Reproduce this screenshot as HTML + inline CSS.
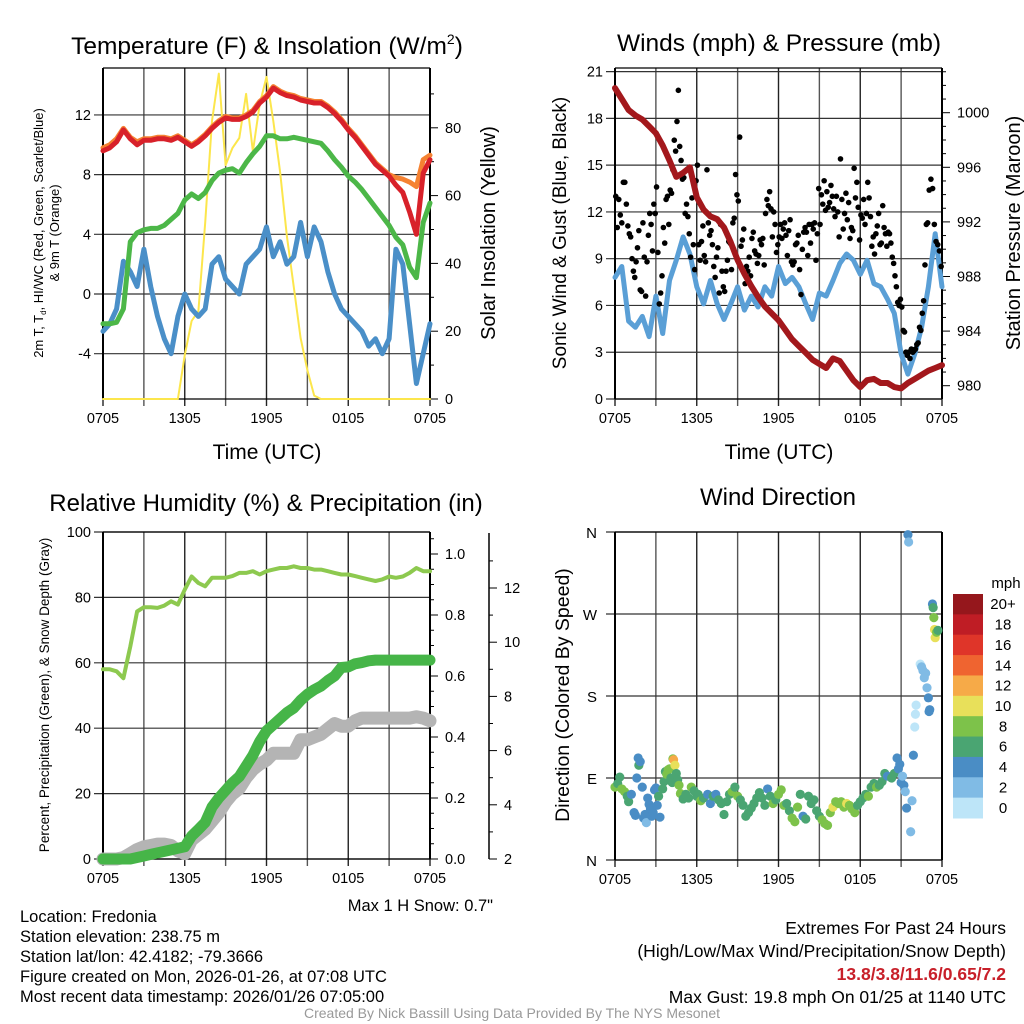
<!DOCTYPE html>
<html><head><meta charset="utf-8"><style>
html,body{margin:0;padding:0;background:#fff;}
svg{display:block;font-family:"Liberation Sans",sans-serif;}
</style></head><body>
<svg id="fig" width="1024" height="1024" viewBox="0 0 1024 1024" xmlns="http://www.w3.org/2000/svg">
<rect width="1024" height="1024" fill="#fff"/>
<text x="267" y="54" font-size="24.5" text-anchor="middle">Temperature (F) &amp; Insolation (W/m<tspan dy="-10" font-size="14">2</tspan><tspan dy="10">)</tspan></text>
<text x="779" y="51" font-size="24.5" text-anchor="middle">Winds (mph) &amp; Pressure (mb)</text>
<text x="266" y="511" font-size="24" text-anchor="middle">Relative Humidity (%) &amp; Precipitation (in)</text>
<text x="778" y="505" font-size="24" text-anchor="middle">Wind Direction</text>
<text x="267" y="459" font-size="21" text-anchor="middle">Time (UTC)</text>
<text x="779" y="459" font-size="21" text-anchor="middle">Time (UTC)</text>
<text transform="translate(43,233) rotate(-90)" font-size="13" text-anchor="middle">2m T, T<tspan font-size="8" dy="3">d</tspan><tspan dy="-3">, HI/WC (Red, Green, Scarlet/Blue)</tspan></text>
<text transform="translate(59,233) rotate(-90)" font-size="13" text-anchor="middle">&amp; 9m T (Orange)</text>
<text transform="translate(495,233) rotate(-90)" font-size="20" text-anchor="middle">Solar Insolation (Yellow)</text>
<text transform="translate(566,233) rotate(-90)" font-size="19" text-anchor="middle">Sonic Wind &amp; Gust (Blue, Black)</text>
<text transform="translate(1020,233) rotate(-90)" font-size="20" text-anchor="middle">Station Pressure (Maroon)</text>
<text transform="translate(49,695) rotate(-90)" font-size="13.5" text-anchor="middle">Percent, Precipitation (Green), &amp; Snow Depth (Gray)</text>
<text transform="translate(569,695) rotate(-90)" font-size="19.5" text-anchor="middle">Direction (Colored By Speed)</text>
<text x="493" y="911" font-size="16.5" text-anchor="end">Max 1 H Snow: 0.7"</text>
<g font-size="16.5">
<text x="20" y="922">Location: Fredonia</text>
<text x="20" y="942">Station elevation: 238.75 m</text>
<text x="20" y="962">Station lat/lon: 42.4182; -79.3666</text>
<text x="20" y="982">Figure created on Mon, 2026-01-26, at 07:08 UTC</text>
<text x="20" y="1002">Most recent data timestamp: 2026/01/26 07:05:00</text>
</g>
<g font-size="17.5" text-anchor="end">
<text x="1006" y="934">Extremes For Past 24 Hours</text>
<text x="1006" y="957">(High/Low/Max Wind/Precipitation/Snow Depth)</text>
<text x="1006" y="980" fill="#c8202a" font-weight="bold">13.8/3.8/11.6/0.65/7.2</text>
<text x="1006" y="1003">Max Gust: 19.8 mph On 01/25 at 1140 UTC</text>
</g>
<text x="512" y="1018" font-size="14" fill="#999" text-anchor="middle">Created By Nick Bassill Using Data Provided By The NYS Mesonet</text>
</svg>
<script>
// ---------- data ----------
const hours = [0,0.5,1,1.5,2,2.5,3,3.5,4,4.5,5,5.5,6,6.5,7,7.5,8,8.5,9,9.5,10,10.5,11,11.5,12,12.5,13,13.5,14,14.5,15,15.5,16,16.5,17,17.5,18,18.5,19,19.5,20,20.5,21,21.5,22,22.5,23,23.5,24];
const xTickLabels = ["0705","1305","1905","0105","0705"];
const tempF = [9.6,9.8,10.2,11.0,10.4,10.0,10.3,10.3,10.4,10.4,10.3,10.5,10.2,9.9,10.2,10.6,11.1,11.5,11.8,11.7,11.7,11.9,12.2,12.8,13.2,13.8,13.5,13.3,13.2,13.0,12.9,12.8,12.8,12.5,12.1,11.6,11.0,10.5,9.9,9.3,8.7,8.3,7.9,7.3,6.8,5.5,4.0,8.1,9.0];
const temp9mF = [9.8,10.0,10.4,11.1,10.5,10.2,10.4,10.4,10.5,10.5,10.4,10.6,10.3,10.0,10.3,10.7,11.2,11.6,11.9,11.8,11.8,12.0,12.3,12.9,13.3,13.9,13.6,13.4,13.3,13.1,13.0,12.9,12.9,12.6,12.2,11.7,11.1,10.6,10.0,9.4,8.8,8.4,8.0,7.8,7.7,7.5,7.2,9.0,9.3];
const dewF = [-2.0,-2.0,-1.9,-1.0,3.5,4.1,4.3,4.4,4.4,4.6,5.0,5.4,6.3,6.7,6.4,6.8,7.6,8.1,8.3,8.4,8.1,8.8,9.4,9.9,10.6,10.6,10.4,10.4,10.5,10.4,10.3,10.2,10.1,9.6,9.0,8.5,7.9,7.5,7.0,6.4,5.8,5.2,4.6,3.8,3.3,1.8,1.1,4.8,6.1];
const windChillF = [-2.5,-2,-1,2.2,1.5,0.5,3,0.5,-1.5,-3,-4,-1.5,0,-1,-1.5,-1,2,2.5,1,0.5,0,2,2.5,3,4.5,2.5,3.5,2,2.5,4.8,2.5,4.5,3.5,1.5,0,-1,-1.5,-2,-2.5,-3.5,-3,-4,-3,3,2,-2,-6,-4,-2];
const insolation = [0,0,0,0,0,0,0,0,0,0,0,0,13,23,26,52,82,96,69,74,77,90,73,87,95,82,67,48,33,18,8.5,1,0,0,0,0,0,0,0,0,0,0,0,0,0,0,0,0,0];
const tempTicks = [-4,0,4,8,12];
const insolTicks = [0,20,40,60,80];

const windMph = [7.8,8.5,5.0,4.6,5.3,4.0,6.6,4.2,7.6,8.9,10.4,9.3,7.2,6.1,7.6,6.1,5.1,6.1,7.2,5.7,6.6,5.9,7.2,6.6,8.5,7.4,7.8,7.2,6.1,5.1,6.8,6.6,7.6,8.7,9.3,8.9,8.0,8.9,7.4,7.2,6.4,5.5,2.9,1.6,2.9,4.6,7.2,10.6,7.2];
const pressureMb = [1001.8,1001.0,1000.2,999.8,999.5,999.0,998.5,997.6,996.5,995.3,995.6,996.0,993.8,992.9,992.4,992.2,991.6,990.5,989.2,988.2,987.3,986.5,985.8,985.3,984.8,984.1,983.4,982.9,982.4,981.9,981.6,981.3,982.0,981.8,981.1,980.4,979.9,980.4,980.5,980.2,980.2,979.9,979.8,980.2,980.5,980.8,981.1,981.3,981.5];
const gustByHour = [
[13,11,12.8,11.8,11.3,13.9,13.9,12.5,11.1],
[10.6,10.4,9,8.2,7.8,8.8,9.7,10.8,7,6.9],
[11.3,9.1,6.6,8.8,10.5,11.9,11.2,9.5,12.5,11.9],
[13.6,9.4,6.1,6.8,7.9,11.0,10.0,12.8,13.0,11.2],
[13.4,13.2,14.7,16.6,15.9,17.8,19.8,16.2,15.3,14.1],
[14.2,11.9,12.5,11.7,10.6,9.1,12.9,9.9,8.3,14.0],
[15.0,9.9,8.9,10.1,11.1,9.2,8.8,14.7,11.3,10.5],
[10.8,9.9,8.5,7.8,9.1,9.7,6.8,11.2,8.2,7.2],
[6.9,8.2,8.9,10.1,10.0,8.3,11.3,11.6,14.4,13.1],
[12.7,16.8,9.8,10.2,10.9,7.4,8.5,8.2,9.1,7.9],
[10.3,10.7,9.5,9.3,8.7,9.2,10.2,9.9,10.3,8.6],
[11.9,12.8,12.4,13.3,12.2,10.4,12.0,11.2,9.4,9.9],
[10.4,11.2,10.3,10.9,11.3,10.5,9.2,10.8,11.5,8.8],
[8.6,8.8,9.9,10.0,10.5,8.3,6.7,9.6,10.7,11.0],
[10.7,9.2,11.2,10.0,11.2,10.9,11.3,8.9,10.6,13.5],
[11.2,13.1,12.5,14.0,12.1,13.3,12.3,12.6,13.7,13.0],
[12.2,11.7,13.0,12.0,10.4,15.4,12.8,10.9,11.9,13.2],
[11.5,12.6,10.3,11.0,10.8,14.8,12.9,13.9,12.3,10.2],
[11.8,11.6,12.8,11.2,11.9,13.9,12.9,11.7,9.8,10.4],
[9.3,10.6,11.1,11.9,9.9,10.0,12.4,11.0,10.6,9.8],
[10.7,10.6,10.0,9.1,8.7,7.9,7.2,6.2,6.0,6.4],
[5.9,4.4,4.3,3.0,2.8,3.0,2.6,3.2,3.0,3.1],
[3.2,3.5,3.6,4.6,4.4,5.5,6.3,8.6,11.2,11.3],
[13.4,14.1,13.5,11.2,10.1,9.9,9.5,8.5]];
const windTicks = [0,3,6,9,12,15,18,21];
const pressTicks = [980,984,988,992,996,1000];

const rhPct = [58,58,57.4,55.3,65,75.7,77,77,76.8,77.5,78.8,77.8,82.4,86.4,84.4,83.4,86,86,86,86.5,87.5,87.5,88,87,88,88.5,89,89,89.5,89,89,88.5,88.5,88,87.5,87,87,86.5,86,85.5,85,85.5,86.4,86,86.4,87.5,89,88,88];
const precipIn = [0,0,0,0,0,0.005,0.01,0.015,0.02,0.025,0.03,0.035,0.04,0.075,0.097,0.12,0.17,0.2,0.225,0.25,0.27,0.305,0.34,0.385,0.42,0.44,0.46,0.48,0.495,0.52,0.54,0.555,0.567,0.585,0.6,0.628,0.63,0.64,0.644,0.65,0.652,0.652,0.652,0.652,0.652,0.652,0.652,0.652,0.652];
const snowIn = [2.0,2.0,2.0,2.05,2.2,2.35,2.45,2.5,2.55,2.55,2.5,2.3,2.2,2.7,2.9,3.1,3.4,3.7,4.1,4.4,4.6,5.0,5.3,5.5,5.65,5.9,5.9,5.9,5.9,6.4,6.4,6.5,6.6,6.8,7.0,6.9,6.9,7.1,7.2,7.2,7.2,7.2,7.2,7.2,7.2,7.2,7.25,7.2,7.1];
const rhTicks = [0,20,40,60,80,100];
const precipTicks = [0,0.2,0.4,0.6,0.8,1.0];
const snowTicks = [2,4,6,8,10,12];

const dirTimes = [0.0,0.2,0.35,0.5,0.7,0.9,1.0,1.2,1.4,1.5,1.6,1.7,1.75,1.85,2.0,2.1,2.2,2.3,2.4,2.5,2.6,2.7,2.8,2.9,3.0,3.1,3.2,3.3,3.5,3.6,3.7,3.8,3.9,4.0,4.1,4.2,4.25,4.3,4.4,4.5,4.6,4.7,4.8,5.0,5.2,5.4,5.6,5.8,6.0,6.1,6.3,6.5,6.8,7.0,7.2,7.4,7.6,7.8,8.0,8.2,8.4,8.6,8.8,9.0,9.2,9.4,9.6,9.8,10.0,10.2,10.4,10.6,10.8,11.0,11.2,11.4,11.6,11.8,12.0,12.2,12.4,12.6,12.8,13.0,13.2,13.4,13.6,13.8,14.0,14.2,14.4,14.6,14.8,15.0,15.2,15.4,15.6,15.8,16.0,16.2,16.4,16.6,16.8,17.0,17.2,17.4,17.6,17.8,18.0,18.2,18.4,18.6,18.8,19.0,19.2,19.4,19.6,19.8,20.0,20.3,20.5,20.7,20.8,20.9,21.0,21.1,21.2,21.3,21.4,21.5,21.55,21.7,21.8,21.9,22.0,22.05,22.1,22.4,22.5,22.6,22.7,22.8,22.9,23.0,23.05,23.1,23.3,23.35,23.4,23.45,23.5,23.6,23.7];
const dirDeg = [80,84,91,78,75,70,64,72,52,49,90,112,104,108,80,46,50,41,68,61,56,48,52,77,79,60,70,47,78,86,97,94,99,100,90,85,111,110,104,95,88,82,73,67,72,68,80,76,70,72,65,68,72,62,70,72,66,62,50,64,72,75,80,70,66,60,48,52,57,62,68,74,68,60,78,70,62,66,72,77,60,62,54,46,42,58,72,48,45,70,62,66,54,48,44,40,38,52,58,64,62,64,58,62,60,56,52,60,64,68,72,70,80,84,80,82,86,95,92,90,95,112,100,105,85,92,82,75,57,357,349,31,65,115,146,160,170,215,212,208,200,205,189,178,163,165,281,277,266,253,244,250,252];
const dirSpeed = [8,7,6,8,8,7,6,5,4,5,4,4,6,4,4,4,4,2,4,4,4,4,4,4,4,4,6,4,6,6,6,8,8,8,6,6,8,12,10,6,6,8,8,6,6,6,8,6,6,6,8,6,4,4,6,4,6,6,6,6,6,8,6,8,6,6,6,6,6,6,6,6,6,6,4,6,8,6,8,8,8,6,6,8,8,8,6,4,6,6,6,6,6,6,8,8,8,8,10,8,8,8,8,10,8,8,8,6,6,6,6,8,6,6,8,6,6,6,4,6,6,4,4,4,4,2,4,2,4,4,2,2,2,4,0,0,0,0,2,2,2,2,2,4,4,4,4,6,8,10,10,8,6,6];
const speedBins = ["0","2","4","6","8","10","12","14","16","18","20+"];
const speedColors = ["#bde5f8","#80bbe5","#4a8dc5","#4aa572","#7dc24a","#e8e05a","#f6aa48","#ef6430","#df3529","#bf1d25","#95171c"];
const dirLabels = ["N","E","S","W","N"];

// ---------- helpers ----------
const NS = "http://www.w3.org/2000/svg";
const svg = document.getElementById("fig");
function mk(tag, attrs, parent) {
  const e = document.createElementNS(NS, tag);
  for (const k in attrs) e.setAttribute(k, attrs[k]);
  (parent || svg).appendChild(e);
  return e;
}
function lineD(xs, ys) {
  return xs.map((x, i) => (i ? "L" : "M") + x.toFixed(1) + "," + ys[i].toFixed(1)).join("");
}
const PW = 327;
const TF = 14.5;
const P1 = {x0: 103, y0: 68, y1: 399};
const P2 = {x0: 615, y0: 68, y1: 399};
const P3 = {x0: 103, y0: 532, y1: 859};
const P4 = {x0: 615, y0: 532, y1: 860};
function xs(p) { return t => p.x0 + t * PW / 24; }

function drawFrame(p, name) {
  const g = mk("g", {});
  
  
  for (let h = 0; h <= 24; h += 3) {
    const x = p.x0 + h * PW / 24;
    const l = mk("line", {x1: x, x2: x, y1: p.y0, y2: p.y1 + 7, stroke: (h % 6 === 0 ? "#222" : "#555"), "stroke-width": 1.4}, g);
    
    
  }
  xTickLabels.forEach((lab, i) => {
    const t = mk("text", {x: p.x0 + i * 6 * PW / 24, y: p.y1 + 24, "font-size": TF, "text-anchor": "middle"}, g);
    t.textContent = lab;
    
    
  });
  return g;
}
function hGrid(p, yv, g) {
  const l = mk("line", {x1: p.x0 - 9, x2: p.x0 + PW, y1: yv, y2: yv, stroke: "#333", "stroke-width": 1.2}, g);
  
  
}
function leftLabel(p, yv, txt, g) {
  const t = mk("text", {x: p.x0 - 12, y: yv + 5, "font-size": TF, "text-anchor": "end"}, g);
  t.textContent = txt;
  
  
}
function rightTick(xa, yv, len, txt, g) {
  const l = mk("line", {x1: xa, x2: xa + len, y1: yv, y2: yv, stroke: "#000", "stroke-width": 1}, g);
  
  
  if (txt !== null) {
    const t = mk("text", {x: xa + len + 7, y: yv + 5, "font-size": TF}, g);
    t.textContent = txt;
    
    
  }
}
function axesLines(p, g) {
  const a = mk("line", {x1: p.x0, x2: p.x0, y1: p.y0, y2: p.y1, stroke: "#000", "stroke-width": 2}, g);
  
  
  const b = mk("line", {x1: p.x0 + PW, x2: p.x0 + PW, y1: p.y0, y2: p.y1, stroke: "#000", "stroke-width": 2}, g);
  
  
  const c = mk("line", {x1: p.x0, x2: p.x0 + PW, y1: p.y0, y2: p.y0, stroke: "#000", "stroke-width": 1.3}, g);
  
  
  const d = mk("line", {x1: p.x0, x2: p.x0 + PW, y1: p.y1, y2: p.y1, stroke: "#000", "stroke-width": 1.3}, g);
  
  
}
function path(d, color, w, name, parent) {
  const e = mk("path", {d: d, fill: "none", stroke: color, "stroke-width": w, "stroke-linejoin": "round", "stroke-linecap": "round"}, parent);
  
  
  return e;
}

// ---------- panel 1: temperature ----------
(function () {
  const X = xs(P1);
  const yT = v => 294 - v * 14.92;
  const yI = v => 399 - v * 3.39;
  const g = drawFrame(P1, "temperature");
  tempTicks.forEach(v => { hGrid(P1, yT(v), g); leftLabel(P1, yT(v), String(v), g); });
  insolTicks.forEach(v => rightTick(P1.x0 + PW, yI(v), 8, String(v), g));
  [10, 30, 50, 70, 90].forEach(v => rightTick(P1.x0 + PW, yI(v), 4, null, g));
  const tx = hours.map(X);
  path(lineD(tx, insolation.map(yI)), "#fce64c", 2, "insolation-line");
  path(lineD(tx, windChillF.map(yT)), "#4a8fc8", 5, "wind-chill-line");
  path(lineD(tx, dewF.map(yT)), "#4cb748", 5, "dewpoint-line");
  path(lineD(tx, temp9mF.map(yT)), "#f58232", 5, "temp-9m-line");
  path(lineD(tx, tempF.map(yT)), "#d8212a", 5, "temp-2m-line");
  axesLines(P1, g);
})();

// ---------- panel 2: winds ----------
(function () {
  const X = xs(P2);
  const yW = v => 399 - v * 15.59;
  const yP = v => 385.7 - (v - 980) * 13.65;
  const g = drawFrame(P2, "winds");
  windTicks.forEach(v => { hGrid(P2, yW(v), g); leftLabel(P2, yW(v), String(v), g); });
  pressTicks.forEach(v => rightTick(P2.x0 + PW, yP(v), 8, String(v), g));
  [981,982,983,985,986,987,989,990,991,993,994,995,997,998,999,1001,1002,1003].forEach(v => rightTick(P2.x0 + PW, yP(v), 4, null, g));
  const tx = hours.map(X);
  path(lineD(tx, windMph.map(yW)), "#5a9fd6", 5, "sustained-wind-line");
  const gg = mk("g", {});
  
  
  gustByHour.forEach((arr, h) => arr.forEach((v, k) => {
    const c = mk("circle", {cx: X(h + (k + 0.5) / arr.length), cy: yW(v), r: 2.8, fill: "#000"}, gg);
    
    
  }));
  path(lineD(tx, pressureMb.map(yP)), "#a3181c", 6, "pressure-line");
  axesLines(P2, g);
})();

// ---------- panel 3: humidity & precip ----------
(function () {
  const X = xs(P3);
  const yR = v => 859 - v * 3.27;
  const yPr = v => 859 - v * 305;
  const yS = v => 859 - (v - 2) * 27.1;
  const g = drawFrame(P3, "humidity");
  rhTicks.forEach(v => { hGrid(P3, yR(v), g); leftLabel(P3, yR(v), String(v), g); });
  precipTicks.forEach(v => rightTick(P3.x0 + PW, yPr(v), 8, v.toFixed(1), g));
  [0.05,0.1,0.15,0.25,0.3,0.35,0.45,0.5,0.55,0.65,0.7,0.75,0.85,0.9,0.95,1.05].forEach(v => rightTick(P3.x0 + PW, yPr(v), 4, null, g));
  const sa = mk("line", {x1: 489, x2: 489, y1: 533, y2: 859, stroke: "#000", "stroke-width": 1.5}, g);
  
  
  snowTicks.forEach(v => rightTick(489, yS(v), 8, String(v), g));
  [3,5,7,9,11,13].forEach(v => rightTick(489, yS(v), 4, null, g));
  const tx = hours.map(X);
  path(lineD(tx, snowIn.map(yS)), "#b4b4b4", 13, "snow-depth-line");
  path(lineD(tx, precipIn.map(yPr)), "#46b548", 11, "precipitation-line");
  path(lineD(tx, rhPct.map(yR)), "#8dc94f", 4, "relative-humidity-line");
  axesLines(P3, g);
})();

// ---------- panel 4: wind direction ----------
(function () {
  const X = xs(P4);
  const yD = d => 860 - d * 328 / 360;
  const g = drawFrame(P4, "direction");
  dirLabels.forEach((lab, i) => {
    hGrid(P4, yD(i * 90), g);
    const t = mk("text", {x: P4.x0 - 18, y: yD(i * 90) + 6, "font-size": 15, "text-anchor": "end"}, g);
    t.textContent = lab;
    
    
  });
  axesLines(P4, g);
  const pg = mk("g", {});
  
  
  dirTimes.forEach((t, i) => {
    const bin = Math.min(10, Math.floor(dirSpeed[i] / 2));
    const c = mk("circle", {cx: X(t), cy: yD(dirDeg[i]), r: 4.6, fill: speedColors[bin]}, pg);
    
    
  });
  const cb = mk("g", {});
  
  
  const t0 = mk("text", {x: 1006, y: 588, "font-size": 15, "text-anchor": "middle"}, cb);
  t0.textContent = "mph";
  
  
  const bh = 224 / 11;
  for (let k = 0; k < 11; k++) {
    const idx = 10 - k;
    const r = mk("rect", {x: 953, y: 594 + k * bh, width: 30, height: bh + 0.5, fill: speedColors[idx]}, cb);
    
    
    const t = mk("text", {x: 1003, y: 594 + k * bh + bh / 2 + 5, "font-size": 15, "text-anchor": "middle"}, cb);
    t.textContent = speedBins[idx];
    
    
  }
})();
</script>
</body></html>
